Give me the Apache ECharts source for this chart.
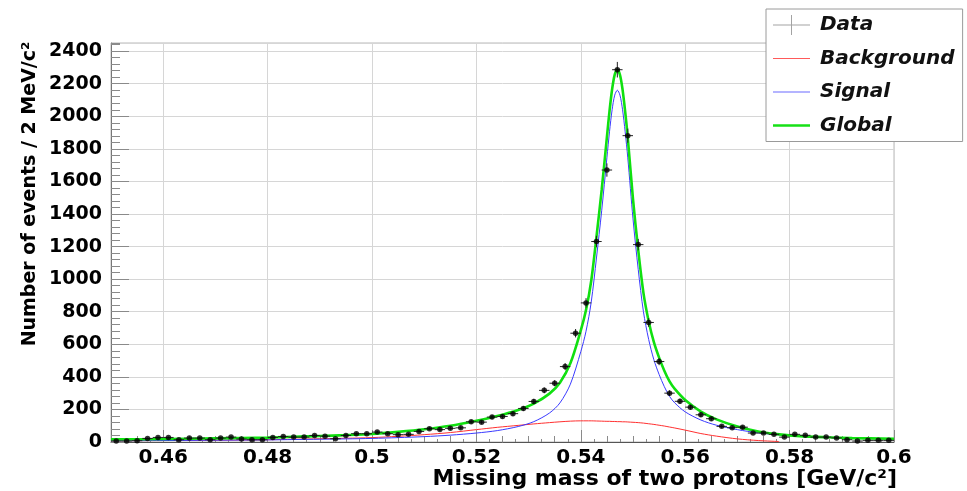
<!DOCTYPE html>
<html><head><meta charset="utf-8">
<script src="https://cdn.jsdelivr.net/npm/echarts@6/dist/echarts.min.js"></script>
<style>html,body{margin:0;padding:0;background:#fff}#c{width:967px;height:491px}</style>
</head><body><div id="c"></div>
<script>
// ---- data ----
const binCenters = [0.451,0.453,0.455,0.457,0.459,0.461,0.463,0.465,0.467,0.469,
  0.471,0.473,0.475,0.477,0.479,0.481,0.483,0.485,0.487,0.489,
  0.491,0.493,0.495,0.497,0.499,0.501,0.503,0.505,0.507,0.509,
  0.511,0.513,0.515,0.517,0.519,0.521,0.523,0.525,0.527,0.529,
  0.531,0.533,0.535,0.537,0.539,0.541,0.543,0.545,0.547,0.549,
  0.551,0.553,0.555,0.557,0.559,0.561,0.563,0.565,0.567,0.569,
  0.571,0.573,0.575,0.577,0.579,0.581,0.583,0.585,0.587,0.589,
  0.591,0.593,0.595,0.597,0.599];
const dataCounts = [6,6,8,22,28,28,14,24,24,14,
  24,30,18,14,14,28,34,30,30,40,
  36,20,40,51,51,61,51,45,47,65,
  82,76,84,87,124,122,153,157,174,206,
  249,317,361,463,668,854,1231,1670,2286,1881,
  1212,734,494,300,250,214,167,143,96,88,
  91,55,55,47,30,47,41,30,30,25,
  14,6,10,10,10];
const curveX = [0.450,0.460,0.470,0.480,0.485,0.490,0.495,0.500,0.505,0.510,
  0.515,0.520,0.524,0.528,0.531,0.534,0.536,0.538,0.540,0.541,
  0.542,0.543,0.544,0.545,0.5455,0.546,0.5465,0.547,0.5475,0.548,
  0.5485,0.549,0.550,0.551,0.552,0.553,0.554,0.555,0.556,0.557,
  0.558,0.560,0.563,0.566,0.570,0.574,0.578,0.582,0.587,0.592,0.600];
const signalY = [8,9,11,13,15,17,19,22,27,33,
  42,55,70,95,125,178,240,355,555,680,
  860,1130,1420,1745,1905,2040,2130,2160,2130,2040,
  1905,1745,1370,1060,800,630,505,415,340,280,
  240,185,135,103,76,56,44,36,29,24,20];
const backgroundY = [8,9,11,14,17,20,23,27,35,45,
  58,76,90,102,111,119,124,128,130,130,
  130,129,128,127,127,126,126,125,125,124,
  124,123,121,119,116,112,108,103,98,92,
  86,73,52,36,19,9,3,null,null,null,null];
const globalY = [16,18,22,27,32,37,42,49,62,78,
  100,131,160,197,236,297,364,483,685,810,
  990,1259,1548,1872,2032,2166,2256,2285,2255,2164,
  2029,1868,1491,1179,916,742,613,518,438,372,
  326,258,187,139,95,65,47,36,29,24,20];
const xTickValues = [0.46,0.48,0.5,0.52,0.54,0.56,0.58,0.6];
const binHalfWidth = 0.001;

const FONT = '"DejaVu Sans", "Liberation Sans", sans-serif';
function pairs(xs, ys){ const out=[]; for(let i=0;i<xs.length;i++){ out.push([xs[i], ys[i]]); } return out; }

const chart = echarts.init(document.getElementById('c'), null, {renderer:'canvas'});
const tickColor = '#8a8a8a';
const option = {
  animation:false,
  backgroundColor:'#fff',
  grid:{left:111, right:73, top:43, bottom:49, show:true, borderColor:'#b8b8b8', borderWidth:1},
  xAxis:[
    {type:'value', min:0.45, max:0.6, position:'bottom',
     axisLine:{show:true, onZero:false, lineStyle:{color:'#555', width:1}},
     axisTick:{show:true, inside:true, length:12, customValues:xTickValues, lineStyle:{color:tickColor}},
     axisLabel:{customValues:xTickValues, margin:6, fontFamily:FONT, fontWeight:'bold', fontSize:20, color:'#000'},
     splitLine:{show:true, lineStyle:{color:'#d6d6d6', width:1}}},
    {type:'value', min:0.45, max:0.6, interval:0.005, position:'bottom',
     axisLine:{show:false, onZero:false}, axisTick:{show:true, inside:true, length:6, lineStyle:{color:tickColor}},
     axisLabel:{show:false}, splitLine:{show:false}},
    {type:'value', min:0.45, max:0.6, interval:0.0025, position:'bottom',
     axisLine:{show:false, onZero:false}, axisTick:{show:true, inside:true, length:3, lineStyle:{color:tickColor}},
     axisLabel:{show:false}, splitLine:{show:false}}
  ],
  yAxis:[
    {type:'value', min:0, max:2450, interval:200, position:'left',
     axisLine:{show:true, onZero:false, lineStyle:{color:'#777', width:1}},
     axisTick:{show:true, inside:true, length:18, lineStyle:{color:tickColor}},
     axisLabel:{showMaxLabel:false, margin:9, fontFamily:FONT, fontWeight:'bold', fontSize:19, color:'#000',
       formatter:function(v){ return String(v); }},
     splitLine:{show:true, lineStyle:{color:'#d6d6d6', width:1}}},
    {type:'value', min:0, max:2450, interval:40, position:'left',
     axisLine:{show:false, onZero:false}, axisTick:{show:true, inside:true, length:9, lineStyle:{color:tickColor}},
     axisLabel:{show:false}, splitLine:{show:false}}
  ],
  legend:{
    orient:'vertical', left:766, top:9, padding:[4,8,4,7], itemGap:9.5, itemWidth:37, itemHeight:20,
    backgroundColor:'#fff', borderColor:'#9a9a9a', borderWidth:1,
    textStyle:{fontFamily:FONT, fontWeight:'bold', fontStyle:'italic', fontSize:20, color:'#111', lineHeight:24, padding:[0,0,0,5]},
    data:[
      {name:'Data', icon:'path://M0,9.5h37v1h-37z M18,0h1v20h-1z', itemStyle:{color:'#8c8c8c', borderWidth:0}},
      {name:'Background', icon:'path://M0,0h37v1.2h-37z', itemStyle:{color:'#ff5a5a', borderWidth:0}},
      {name:'Signal', icon:'path://M0,0h37v1.2h-37z', itemStyle:{color:'#6a6aff', borderWidth:0}},
      {name:'Global', icon:'path://M0,0h37v2.6h-37z', itemStyle:{color:'#16e016', borderWidth:0}}
    ]
  },
  series:[
    {name:'Background', type:'line', data:pairs(curveX, backgroundY), smooth:0.3, showSymbol:false, symbol:'none',
     color:'#ff3030', lineStyle:{color:'#ff3030', width:1}, z:2, connectNulls:false},
    {name:'Signal', type:'line', data:pairs(curveX, signalY), smooth:0.3, showSymbol:false, symbol:'none',
     color:'#3a3aff', lineStyle:{color:'#3a3aff', width:1}, z:3},
    {name:'Global', type:'line', data:pairs(curveX, globalY), smooth:0.3, showSymbol:false, symbol:'none',
     color:'#10e010', lineStyle:{color:'#10e010', width:2.6}, z:4},
    {name:'Data errors', type:'custom', data:pairs(binCenters, dataCounts), encode:{x:0, y:1}, z:5, clip:true,
     renderItem:function(params, api){
       const x = api.value(0), y = api.value(1);
       const e = Math.sqrt(y);
       const l = api.coord([x - binHalfWidth, y]), r = api.coord([x + binHalfWidth, y]);
       const t = api.coord([x, y + e]), b = api.coord([x, y - e]);
       return {type:'group', children:[
         {type:'line', shape:{x1:l[0], y1:l[1], x2:r[0], y2:r[1]}, style:{stroke:'#222', lineWidth:1}},
         {type:'line', shape:{x1:t[0], y1:t[1], x2:b[0], y2:b[1]}, style:{stroke:'#222', lineWidth:1}}
       ]};
     }},
    {name:'Data', type:'scatter', data:pairs(binCenters, dataCounts), symbol:'circle', symbolSize:5.5,
     itemStyle:{color:'#000'}, z:6}
  ],
  graphic:[
    {type:'text', x:897, y:479, style:{text:'Missing mass of two protons [GeV/c²]', font:'bold 22px ' + FONT,
      textAlign:'right', textVerticalAlign:'middle', align:'right', verticalAlign:'middle', fill:'#000'}},
    {type:'text', x:30, y:194, rotation:Math.PI/2, style:{text:'Number of events / 2 MeV/c²', font:'bold 19px ' + FONT,
      textAlign:'center', textVerticalAlign:'middle', align:'center', verticalAlign:'middle', fill:'#000'}}
  ]
};
chart.setOption(option);
</script>
</body></html>
